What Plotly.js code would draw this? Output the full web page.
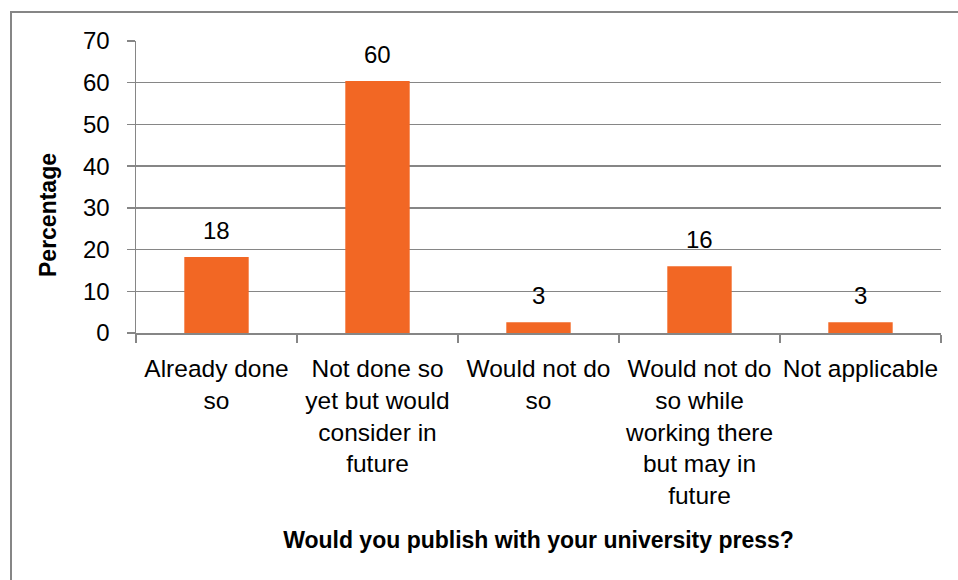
<!DOCTYPE html>
<html>
<head>
<meta charset="utf-8">
<script src="https://cdn.plot.ly/plotly-3.0.1.min.js"></script>
<style>
html,body{margin:0;padding:0;background:#fff;overflow:hidden;}
#wrap{position:relative;width:958px;height:580px;overflow:hidden;}
#chart{width:958px;height:580px;}
#frame{position:absolute;left:10px;top:11px;width:1000px;height:700px;border-left:2px solid #868686;border-top:2px solid #868686;pointer-events:none;z-index:10;}
</style>
</head>
<body>
<div id="wrap">
<div id="chart"></div>
<div id="frame"></div>
</div>
<script>
const categories = [
  "Already done<br>so",
  "Not done so<br>yet but would<br>consider in<br>future",
  "Would not do<br>so",
  "Would not do<br>so while<br>working there<br>but may in<br>future",
  "Not applicable"
];
const percentages = [18.2, 60.4, 2.6, 16.0, 2.6];
const yTicks = [0, 10, 20, 30, 40, 50, 60, 70];
const xTitle = "Would you publish with your university press?";
const yTitle = "Percentage";

const FONT = "Liberation Sans, Arial, sans-serif";
const GRID = "#868686";
const BAR = "#F26724";

const trace = {
  type: "bar",
  x: categories,
  y: percentages,
  marker: {color: BAR, line: {width: 0}},
  hoverinfo: "none"
};

const labelAnnotations = categories.map((c, i) => ({
  x: c, y: percentages[i], xref: "x", yref: "y",
  text: String(Math.round(percentages[i])),
  showarrow: false, yanchor: "middle", yshift: 27,
  font: {family: FONT, size: 24, color: "#000"}
}));

const layout = {
  width: 958, height: 580,
  margin: {l: 136, r: 17, t: 41, b: 247},
  paper_bgcolor: "#fff", plot_bgcolor: "#fff",
  showlegend: false,
  bargap: 0.6,
  font: {family: FONT, size: 24, color: "#000"},
  xaxis: {
    type: "category",
    tickson: "boundaries",
    ticks: "outside", ticklen: 8, tickwidth: 1.5, tickcolor: GRID,
    showline: true, linecolor: GRID, linewidth: 1.5,
    showgrid: false, zeroline: false,
    tickfont: {family: FONT, size: 24.5, color: "#000"},
    tickangle: 0,
    ticklabelstandoff: 13,
    automargin: false,
    title: {text: xTitle, font: {family: FONT, size: 23, color: "#000", weight: "bold"}, standoff: 23}
  },
  yaxis: {
    range: [0, 70],
    tickvals: yTicks,
    ticktext: yTicks.map(String),
    ticks: "outside", ticklen: 8, tickwidth: 1.5, tickcolor: GRID,
    showline: true, linecolor: GRID, linewidth: 1.5,
    showgrid: true, gridcolor: GRID, gridwidth: 1.3,
    zeroline: false,
    tickfont: {family: FONT, size: 24, color: "#000"},
    ticklabelstandoff: 12,
    automargin: false,
    title: {text: ""}
  },
  annotations: labelAnnotations.concat([{
    text: "<b>" + yTitle + "</b>",
    xref: "paper", yref: "paper",
    x: (48 - 136) / 805, y: (333 - 215) / 292,
    xanchor: "center", yanchor: "middle",
    textangle: -90, showarrow: false,
    font: {family: FONT, size: 23, color: "#000"}
  }])
};

Plotly.newPlot("chart", [trace], layout, {displayModeBar: false, staticPlot: true});
</script>
</body>
</html>
